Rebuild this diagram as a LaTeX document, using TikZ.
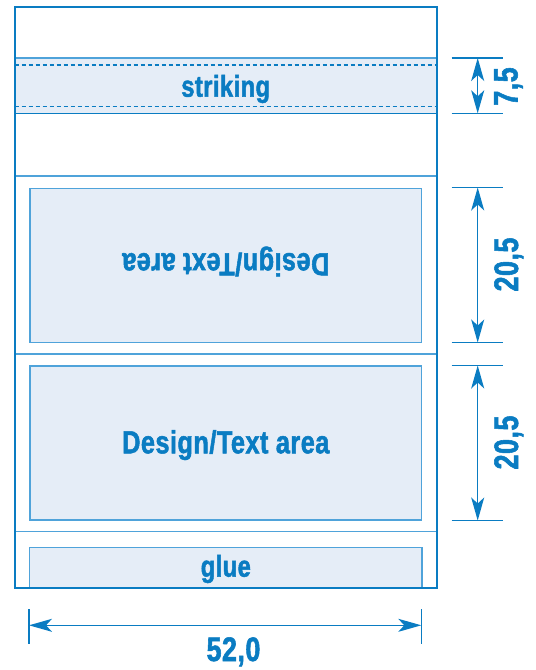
\documentclass[tikz,border=0pt]{standalone}
\usepackage{fontspec}
\setmainfont{Liberation Sans}
\newfontfamily\lab{Liberation Sans Bold}[FakeStretch=0.79, FakeBold=1.6, LetterSpace=1.5]
\usetikzlibrary{arrows.meta}
\definecolor{mblue}{HTML}{0A7CC2}
\definecolor{lblue}{HTML}{4FA3DA}
\definecolor{fillb}{HTML}{E5EDF7}
\begin{document}
\begin{tikzpicture}[x=1pt,y=-1pt,
  lbl/.style={font=\lab\fontsize{32}{36}\selectfont, text=mblue, inner sep=0pt},
  small/.style={font=\lab\fontsize{30}{34}\selectfont},
  num/.style={font=\lab\fontsize{34}{38}\selectfont},
  outer/.style={draw=mblue, line width=2pt},
  sep/.style={draw=lblue, line width=1.5pt},
  area/.style={fill=fillb, draw=lblue, line width=1.3pt},
  dashln/.style={draw=mblue, line width=1.2pt, dash pattern=on 4pt off 3pt},
  tickln/.style={draw=mblue, line width=1.3pt},
  dim/.style={draw=mblue, line width=1.3pt,
    {Stealth[length=23pt,width=13pt,inset=6pt]}-{Stealth[length=23pt,width=13pt,inset=6pt]}},
]
\useasboundingbox (0,0) rectangle (536,670);
% striking band
\fill[fillb] (14.7,58) rectangle (436.7,113.3);
\draw[dashln] (14.7,65) -- (436.7,65);
\draw[dashln] (14.7,106.7) -- (436.7,106.7);
\draw[draw=lblue, line width=2.2pt] (14.7,58) -- (436.7,58);
\draw[draw=mblue, line width=1.4pt] (14.7,113.3) -- (436.7,113.3);
% separators
\draw[sep] (14.7,176) -- (436.7,176);
\draw[sep] (14.7,354) -- (436.7,354);
\draw[sep] (14.7,531.7) -- (436.7,531.7);
% areas
\draw[area] (30,188.3) rectangle (421.7,342.3);
\draw[area] (30,366) rectangle (421.7,520);
\draw[area] (29.8,547.7) rectangle (422,587.7);
% outer frame
\draw[outer] (14.7,6.7) rectangle (436.7,587.7);
% labels
\node[lbl, small, anchor=base] (striking) at (225.7,96.7) {striking};
\node[lbl, rotate=180, anchor=base] (design1) at (225.8,253.3) {Design/Text area};
\node[lbl, anchor=base] (design2) at (225.8,453.3) {Design/Text area};
\node[lbl, small, anchor=base] (glue) at (225.8,576.7) {glue};
% dimension 7,5
\coordinate (s1l) at (451.7,58); \coordinate (s1r) at (503,58);
\coordinate (s2l) at (451.7,113.3); \coordinate (s2r) at (503,113.3);
\coordinate (s1) at (477.7,58); \coordinate (s2) at (477.7,113.3);
\draw[tickln] (s1l) -- (s1r);
\draw[tickln] (s2l) -- (s2r);
\draw[dim] (s1) -- (s2);
\node[lbl, num, rotate=90, anchor=base] (d75) at (517.5,86.5) {7,5};
% dimension 20,5 upper
\coordinate (u1l) at (451.7,187.5); \coordinate (u1r) at (503,187.5);
\coordinate (u2l) at (451.7,342.5); \coordinate (u2r) at (503,342.5);
\coordinate (u1) at (477.7,187.5); \coordinate (u2) at (477.7,342.5);
\draw[tickln] (u1l) -- (u1r);
\draw[tickln] (u2l) -- (u2r);
\draw[dim] (u1) -- (u2);
\node[lbl, num, rotate=90, anchor=base] (d205a) at (518,264.5) {20,5};
% dimension 20,5 lower
\coordinate (w1l) at (451.7,365.5); \coordinate (w1r) at (503,365.5);
\coordinate (w2l) at (451.7,520.5); \coordinate (w2r) at (503,520.5);
\coordinate (w1) at (477.7,365.5); \coordinate (w2) at (477.7,520.5);
\draw[tickln] (w1l) -- (w1r);
\draw[tickln] (w2l) -- (w2r);
\draw[dim] (w1) -- (w2);
\node[lbl, num, rotate=90, anchor=base] (d205b) at (518,442.5) {20,5};
% dimension 52,0
\coordinate (h1t) at (29,609); \coordinate (h1b) at (29,644);
\coordinate (h2t) at (421.3,609); \coordinate (h2b) at (421.3,644);
\coordinate (h1) at (29,625.3); \coordinate (h2) at (421.3,625.3);
\draw[tickln] (h1t) -- (h1b);
\draw[tickln] (h2t) -- (h2b);
\draw[dim] (h1) -- (h2);
\node[lbl, num, anchor=base] (d520) at (233.5,661) {52,0};
\end{tikzpicture}
\end{document}
